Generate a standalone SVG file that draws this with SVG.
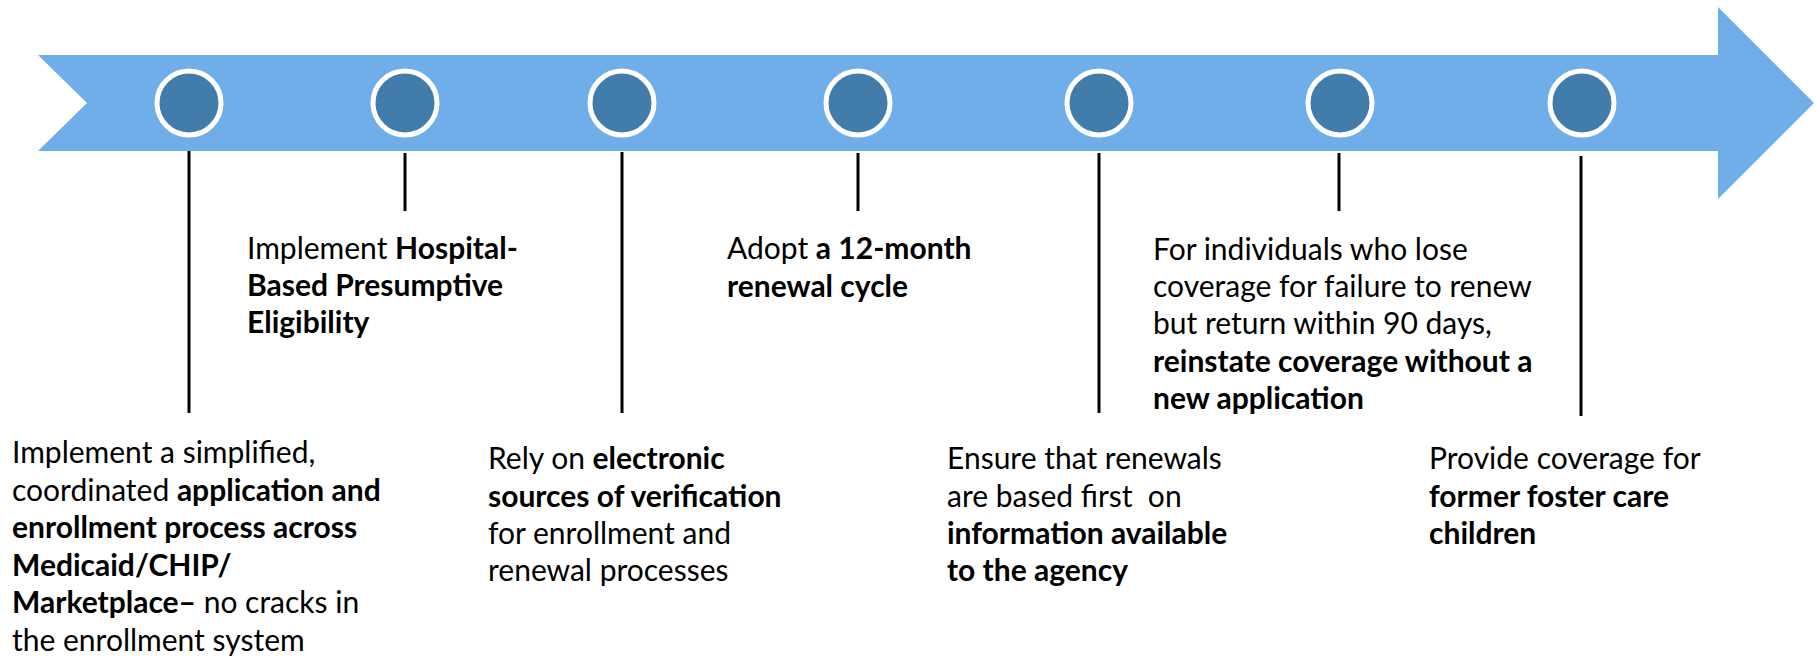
<svg xmlns="http://www.w3.org/2000/svg" width="1816" height="661" viewBox="0 0 1816 661">
  <style>
    .band { fill: #6FAEE8; }
    .dot { fill: #427CAB; stroke: #FFFFFF; stroke-width: 5; }
    .stem { stroke: #000000; stroke-width: 3; fill: none; }
    .lbl { font-family: Lato, "Liberation Sans", sans-serif; font-size: 30px; fill: #000000; }
    .b { font-weight: bold; }
  </style>
  <rect x="0" y="0" width="1816" height="661" fill="#FFFFFF"/>

  <!-- timeline arrow -->
  <polygon id="timeline" class="band" points="38,55 1718,55 1718,7 1814,103 1718,199 1718,151 38,151 87,103"/>

  <!-- connectors: stems from each milestone down/up to its label -->
  <g id="connectors">
    <line class="stem" x1="189" y1="151" x2="189" y2="413"/>
    <line class="stem" x1="405" y1="153" x2="405" y2="211"/>
    <line class="stem" x1="622" y1="152" x2="622" y2="413"/>
    <line class="stem" x1="858" y1="153" x2="858" y2="211"/>
    <line class="stem" x1="1099" y1="153" x2="1099" y2="413"/>
    <line class="stem" x1="1339" y1="153" x2="1339" y2="211"/>
    <line class="stem" x1="1581" y1="156" x2="1581" y2="416"/>
  </g>

  <g id="m1">
    <circle class="dot" cx="189" cy="103" r="32"/>
    <text class="lbl" x="12">
      <tspan x="12" y="463">Implement a simplified,</tspan>
      <tspan x="12" y="501">coordinated <tspan class="b">application and</tspan></tspan>
      <tspan x="12" y="538" class="b">enrollment process across</tspan>
      <tspan x="12" y="576" class="b">Medicaid/CHIP/</tspan>
      <tspan x="12" y="613"><tspan class="b">Marketplace–</tspan> no cracks in</tspan>
      <tspan x="12" y="651">the enrollment system</tspan>
    </text>
  </g>

  <g id="m2">
    <circle class="dot" cx="405" cy="103" r="32"/>
    <text class="lbl">
      <tspan x="247" y="259">Implement <tspan class="b">Hospital-</tspan></tspan>
      <tspan x="247" y="296" class="b">Based Presumptive</tspan>
      <tspan x="247" y="333" class="b">Eligibility</tspan>
    </text>
  </g>

  <g id="m3">
    <circle class="dot" cx="622" cy="103" r="32"/>
    <text class="lbl">
      <tspan x="488" y="469">Rely on <tspan class="b">electronic</tspan></tspan>
      <tspan x="488" y="507" class="b">sources of verification</tspan>
      <tspan x="488" y="544">for enrollment and</tspan>
      <tspan x="488" y="581">renewal processes</tspan>
    </text>
  </g>

  <g id="m4">
    <circle class="dot" cx="858" cy="103" r="32"/>
    <text class="lbl">
      <tspan x="727" y="259">Adopt <tspan class="b">a 12-month</tspan></tspan>
      <tspan x="727" y="297" class="b">renewal cycle</tspan>
    </text>
  </g>

  <g id="m5">
    <circle class="dot" cx="1099" cy="103" r="32"/>
    <text class="lbl" xml:space="preserve"><tspan x="947" y="469">Ensure that renewals</tspan><tspan x="947" y="507">are based first  on</tspan><tspan x="947" y="544" class="b">information available</tspan><tspan x="947" y="581" class="b">to the agency</tspan></text>
  </g>

  <g id="m6">
    <circle class="dot" cx="1340" cy="103" r="32"/>
    <text class="lbl">
      <tspan x="1153" y="260">For individuals who lose</tspan>
      <tspan x="1153" y="297">coverage for failure to renew</tspan>
      <tspan x="1153" y="334">but return within 90 days,</tspan>
      <tspan x="1153" y="372" class="b">reinstate coverage without a</tspan>
      <tspan x="1153" y="409" class="b">new application</tspan>
    </text>
  </g>

  <g id="m7">
    <circle class="dot" cx="1582" cy="103" r="32"/>
    <text class="lbl">
      <tspan x="1429" y="469">Provide coverage for</tspan>
      <tspan x="1429" y="507" class="b">former foster care</tspan>
      <tspan x="1429" y="544" class="b">children</tspan>
    </text>
  </g>
</svg>
